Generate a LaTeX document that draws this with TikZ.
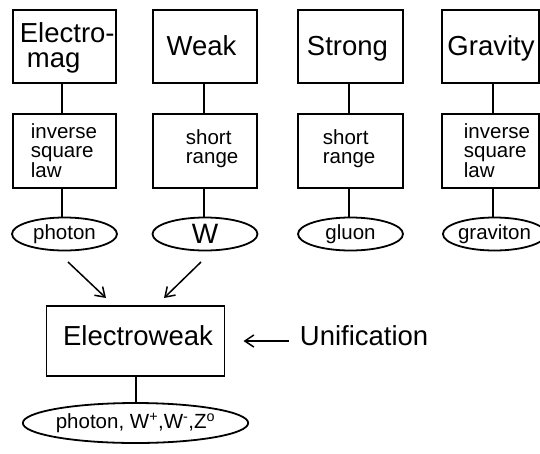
\documentclass[tikz,border=0pt]{standalone}
\usepackage{fontspec}
\setmainfont{Liberation Sans}
\usetikzlibrary{shapes.geometric,arrows.meta}
\begin{document}
\begin{tikzpicture}[x=1pt,y=-1pt, line width=1.8pt,
  box/.style={draw, rectangle, inner sep=0pt, outer sep=0pt},
  oval/.style={draw, ellipse, inner sep=0pt, outer sep=0pt, minimum height=33pt},
  big/.style={font=\fontsize{27.5}{27.5}\selectfont, inner sep=0pt},
  sm/.style={font=\fontsize{20.5}{20.5}\selectfont, inner sep=0pt},
  arr/.style={-{Straight Barb[length=9pt,width=12pt,line width=1.5pt]}, line width=1.5pt}]
\useasboundingbox (0,0) rectangle (540,453);

% top boxes
\node[box, minimum width=103pt, minimum height=73pt] (emag) at (64.5,46.5) {};
\node[box, minimum width=104pt, minimum height=73pt] (weak) at (205,46.5) {};
\node[box, minimum width=105pt, minimum height=73pt] (strong) at (350.5,46.5) {};
\node[box, minimum width=97pt, minimum height=73pt] (grav) at (490.5,46.5) {};

\node[big, anchor=base west] (t1) at (19,42) {Electro-};
\node[big, anchor=base west] (t2) at (26,67) {mag};
\node[big, anchor=base] (t3) at (201.5,55) {Weak};
\node[big, anchor=base] (t4) at (347.5,55) {Strong};
\node[big, anchor=base] (t5) at (491,55) {Gravity};

% middle boxes
\node[box, minimum width=103pt, minimum height=74pt] (emagm) at (64.5,151) {};
\node[box, minimum width=104pt, minimum height=74pt] (weakm) at (205,151) {};
\node[box, minimum width=105pt, minimum height=74pt] (strongm) at (350.5,151) {};
\node[box, minimum width=97pt, minimum height=74pt] (gravm) at (490.5,151) {};

\node[sm, anchor=base west] (m1a) at (30,138) {inverse};
\node[sm, anchor=base west] (m1b) at (30,157) {square};
\node[sm, anchor=base west] (m1c) at (30,177) {law};
\node[sm, anchor=base west] (m2a) at (185,144) {short};
\node[sm, anchor=base west] (m2b) at (185,163) {range};
\node[sm, anchor=base west] (m3a) at (322,144) {short};
\node[sm, anchor=base west] (m3b) at (322,163) {range};
\node[sm, anchor=base west] (m4a) at (463,138) {inverse};
\node[sm, anchor=base west] (m4b) at (463,157) {square};
\node[sm, anchor=base west] (m4c) at (463,177) {law};

% ellipses
\node[oval, minimum width=105pt, font=\fontsize{20.5}{20.5}\selectfont] (photon) at (64.5,234) {photon};
\node[oval, minimum width=105pt, font=\fontsize{28}{28}\selectfont] (W) at (205,234) {W};
\node[oval, minimum width=105pt, font=\fontsize{20.5}{20.5}\selectfont] (gluon) at (350.5,234) {gluon};
\node[oval, minimum width=103pt, font=\fontsize{20.5}{20.5}\selectfont] (graviton) at (494.5,234) {graviton};

% vertical connectors
\draw ([xshift=-2.5pt]emag.south) -- ([xshift=-2.5pt]emagm.north);
\draw ([xshift=-1pt]weak.south) -- ([xshift=-1pt]weakm.north);
\draw ([xshift=-1.5pt]strong.south) -- ([xshift=-1.5pt]strongm.north);
\draw ([xshift=2.5pt]grav.south) -- ([xshift=2.5pt]gravm.north);
\draw ([xshift=-2.5pt]emagm.south) -- ([xshift=-2.5pt]photon.north);
\draw ([xshift=-1pt]weakm.south) -- ([xshift=-1pt]W.north);
\draw ([xshift=-1.5pt]strongm.south) -- ([xshift=-1.5pt]gluon.north);
\draw ([xshift=2.5pt]gravm.south) -- ([xshift=-1.5pt]graviton.north);

% electroweak
\node[box, minimum width=178pt, minimum height=70pt] (ew) at (135.5,341) {};
\node[big, anchor=base] (ewt) at (138,345) {Electroweak};
\node[big, anchor=base west] (uni) at (299,345) {Unification};

\draw[arr] ([xshift=3.5pt,yshift=-11.5pt]photon.south) -- ([xshift=-29.5pt,yshift=8pt]ew.north);
\draw[arr] ([xshift=-4pt,yshift=-11.5pt]W.south) -- ([xshift=28.5pt,yshift=8pt]ew.north);
\draw[arr] ([xshift=-10pt,yshift=4pt]uni.base west) -- ([xshift=19pt]ew.east);

% bottom
\node[oval, minimum width=196pt, minimum height=40pt, font=\fontsize{20.5}{20.5}\selectfont] (bot) at (135.5,423)
  {photon, W\textsuperscript{+},W\textsuperscript{-},Z\textsuperscript{o}};
\draw ([xshift=0.5pt]ew.south) -- ([xshift=0.5pt]bot.north);
\end{tikzpicture}
\end{document}
